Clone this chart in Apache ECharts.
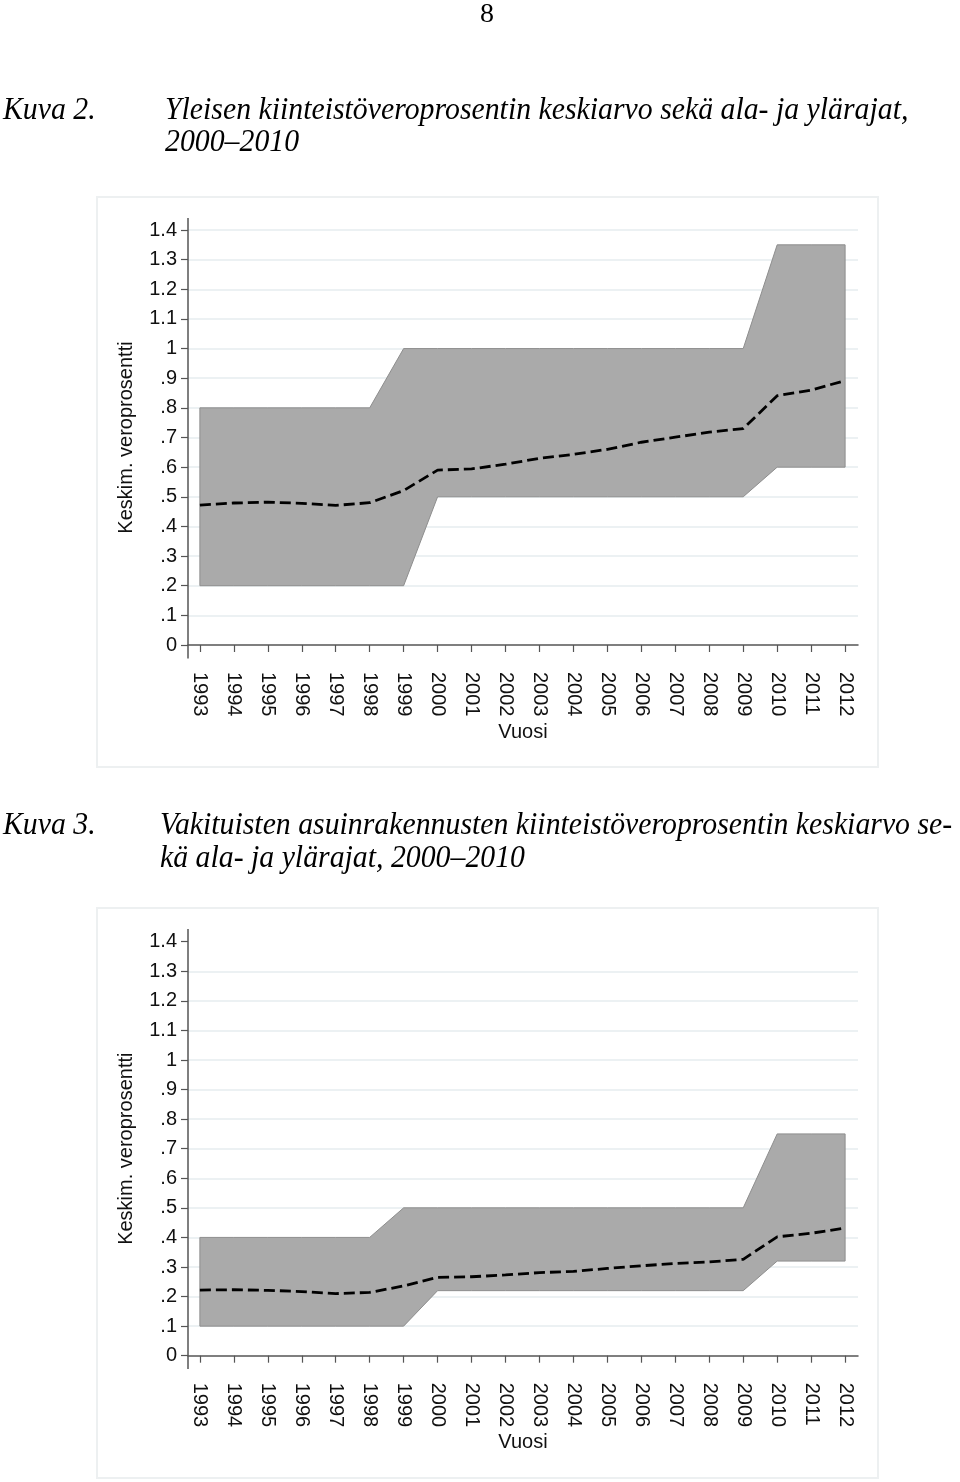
<!DOCTYPE html>
<html>
<head>
<meta charset="utf-8">
<script src="https://cdn.jsdelivr.net/npm/echarts@6/dist/echarts.min.js"></script>
<style>
  html, body { margin: 0; padding: 0; background: #fff; }
  #main { width: 960px; height: 1482px; }
</style>
</head>
<body>
<div id="main"></div>
<script>
var years = [1993, 1994, 1995, 1996, 1997, 1998, 1999, 2000, 2001, 2002,
             2003, 2004, 2005, 2006, 2007, 2008, 2009, 2010, 2011, 2012];

// Kuva 2: yleinen kiinteistoveroprosentti
var upper1 = [0.8, 0.8, 0.8, 0.8, 0.8, 0.8, 1, 1, 1, 1,
              1, 1, 1, 1, 1, 1, 1, 1.35, 1.35, 1.35];
var lower1 = [0.2, 0.2, 0.2, 0.2, 0.2, 0.2, 0.2, 0.5, 0.5, 0.5,
              0.5, 0.5, 0.5, 0.5, 0.5, 0.5, 0.5, 0.6, 0.6, 0.6];
var mean1  = [0.472, 0.479, 0.482, 0.478, 0.471, 0.480, 0.521, 0.590, 0.594, 0.610,
              0.630, 0.643, 0.660, 0.684, 0.701, 0.718, 0.730, 0.841, 0.860, 0.892];

// Kuva 3: vakituiset asuinrakennukset
var upper2 = [0.4, 0.4, 0.4, 0.4, 0.4, 0.4, 0.5, 0.5, 0.5, 0.5,
              0.5, 0.5, 0.5, 0.5, 0.5, 0.5, 0.5, 0.75, 0.75, 0.75];
var lower2 = [0.1, 0.1, 0.1, 0.1, 0.1, 0.1, 0.1, 0.22, 0.22, 0.22,
              0.22, 0.22, 0.22, 0.22, 0.22, 0.22, 0.22, 0.32, 0.32, 0.32];
var mean2  = [0.222, 0.223, 0.221, 0.217, 0.210, 0.214, 0.236, 0.265, 0.267, 0.273,
              0.281, 0.285, 0.295, 0.304, 0.312, 0.317, 0.326, 0.402, 0.414, 0.432];

var sans = 'Liberation Sans';
var serif = 'Liberation Serif';
var axisColor = '#555555';
var gridColor = '#e6edef';
var bandColor = '#aaaaaa';
var bandEdge = '#8e8e8e';

function pairs(vals) {
	var out = [];
	for (var i = 0; i < years.length; i++) out.push([years[i], vals[i]]);
	return out;
}

function triples(lo, up) {
	var out = [];
	for (var i = 0; i < years.length; i++) out.push([years[i], lo[i], up[i]]);
	return out;
}

function fmtY(v) {
	if (v === 0) return '0';
	return (Math.round(v * 10) / 10).toString().replace(/^0\./, '.');
}

// ala- ja ylarajan valinen alue yhtena monikulmiona
function bandRender(up, lo) {
	return function (params, api) {
		if (params.dataIndex !== 0) return null;
		var pts = [], i;
		for (i = 0; i < years.length; i++) pts.push(api.coord([years[i], up[i]]));
		for (i = years.length - 1; i >= 0; i--) pts.push(api.coord([years[i], lo[i]]));
		return {
			type: 'polygon',
			shape: { points: pts },
			style: { fill: bandColor, stroke: bandEdge, lineWidth: 1 }
		};
	};
}

function xAxisFor(idx) {
	return {
		gridIndex: idx,
		type: 'value',
		min: 1992.65,
		max: 2012.38,
		offset: 13,
		name: 'Vuosi',
		nameLocation: 'middle',
		nameGap: 64,
		nameTextStyle: { fontFamily: sans, fontSize: 20, color: '#111' },
		axisLine: { show: true, lineStyle: { color: axisColor, width: 1.5 } },
		axisTick: { show: true, customValues: years, length: 7, lineStyle: { color: axisColor, width: 1.2 } },
		axisLabel: {
			customValues: years,
			rotate: -90,
			margin: 14,
			fontFamily: sans,
			fontSize: 20,
			color: '#111',
			formatter: function (v) { return String(v); }
		},
		splitLine: { show: false }
	};
}

function yAxisFor(idx, showMax) {
	return {
		gridIndex: idx,
		type: 'value',
		min: 0,
		max: 1.4,
		interval: 0.1,
		name: 'Keskim. veroprosentti',
		nameLocation: 'middle',
		nameRotate: 90,
		nameGap: 52,
		nameTextStyle: { fontFamily: sans, fontSize: 20, color: '#111' },
		axisLine: { show: false },
		axisTick: { show: true, length: 7, lineStyle: { color: axisColor, width: 1.2 } },
		axisLabel: { margin: 11, fontFamily: sans, fontSize: 20, color: '#111', formatter: fmtY },
		splitLine: {
			show: true,
			showMinLine: false,
			showMaxLine: showMax,
			lineStyle: { color: gridColor, width: 1.5 }
		}
	};
}

function seriesFor(idx, up, lo, mean) {
	return [
		{
			type: 'custom', xAxisIndex: idx, yAxisIndex: idx,
			data: triples(lo, up),
			encode: { x: 0, y: [1, 2] },
			renderItem: bandRender(up, lo),
			silent: true, z: 2
		},
		{
			type: 'line', xAxisIndex: idx, yAxisIndex: idx,
			data: pairs(mean), symbol: 'none', silent: true,
			lineStyle: { color: '#000', width: 2.8, type: [11, 5] },
			z: 5
		}
	];
}

function titleText(x, y, text) {
	return {
		type: 'text', x: x, y: y, scaleY: 1.08,
		style: {
			text: text, fill: '#000',
			font: 'italic 29.8px "' + serif + '"',
			verticalAlign: 'middle'
		}
	};
}

var option = {
	animation: false,
	backgroundColor: '#fff',
	grid: [
		{ left: 188, right: 102, top: 230, height: 415 },
		{ left: 188, right: 102, top: 941.7, height: 414 }
	],
	xAxis: [xAxisFor(0), xAxisFor(1)],
	yAxis: [yAxisFor(0, true), yAxisFor(1, false)],
	series: seriesFor(0, upper1, lower1, mean1).concat(seriesFor(1, upper2, lower2, mean2)),
	graphic: [
		{
			type: 'text', x: 487, y: 15,
			style: { text: '8', fill: '#000', font: '28px "' + serif + '"', align: 'center', verticalAlign: 'middle' }
		},
		titleText(3, 111, 'Kuva 2.'),
		titleText(165, 111, 'Yleisen kiinteistöveroprosentin keskiarvo sekä ala- ja ylärajat,'),
		titleText(165, 143, '2000–2010'),
		titleText(3, 826, 'Kuva 3.'),
		titleText(160, 826, 'Vakituisten asuinrakennusten kiinteistöveroprosentin keskiarvo se-'),
		titleText(160, 859, 'kä ala- ja ylärajat, 2000–2010'),
		// kuva-alueiden kehykset
		{ type: 'rect', shape: { x: 97, y: 197, width: 781, height: 570 }, style: { fill: 'none', stroke: '#edf0f1', lineWidth: 2 }, silent: true },
		{ type: 'rect', shape: { x: 97, y: 908, width: 781, height: 570 }, style: { fill: 'none', stroke: '#edf0f1', lineWidth: 2 }, silent: true },
		// y-akselin viiva jatkuu hieman asteikon ohi
		{ type: 'line', shape: { x1: 188, y1: 218, x2: 188, y2: 658.5 }, style: { stroke: axisColor, lineWidth: 1.5 }, silent: true, z: 10 },
		{ type: 'line', shape: { x1: 188, y1: 929, x2: 188, y2: 1369 }, style: { stroke: axisColor, lineWidth: 1.5 }, silent: true, z: 10 }
	]
};

var myChart = echarts.init(document.getElementById('main'));
myChart.setOption(option);
</script>
</body>
</html>
